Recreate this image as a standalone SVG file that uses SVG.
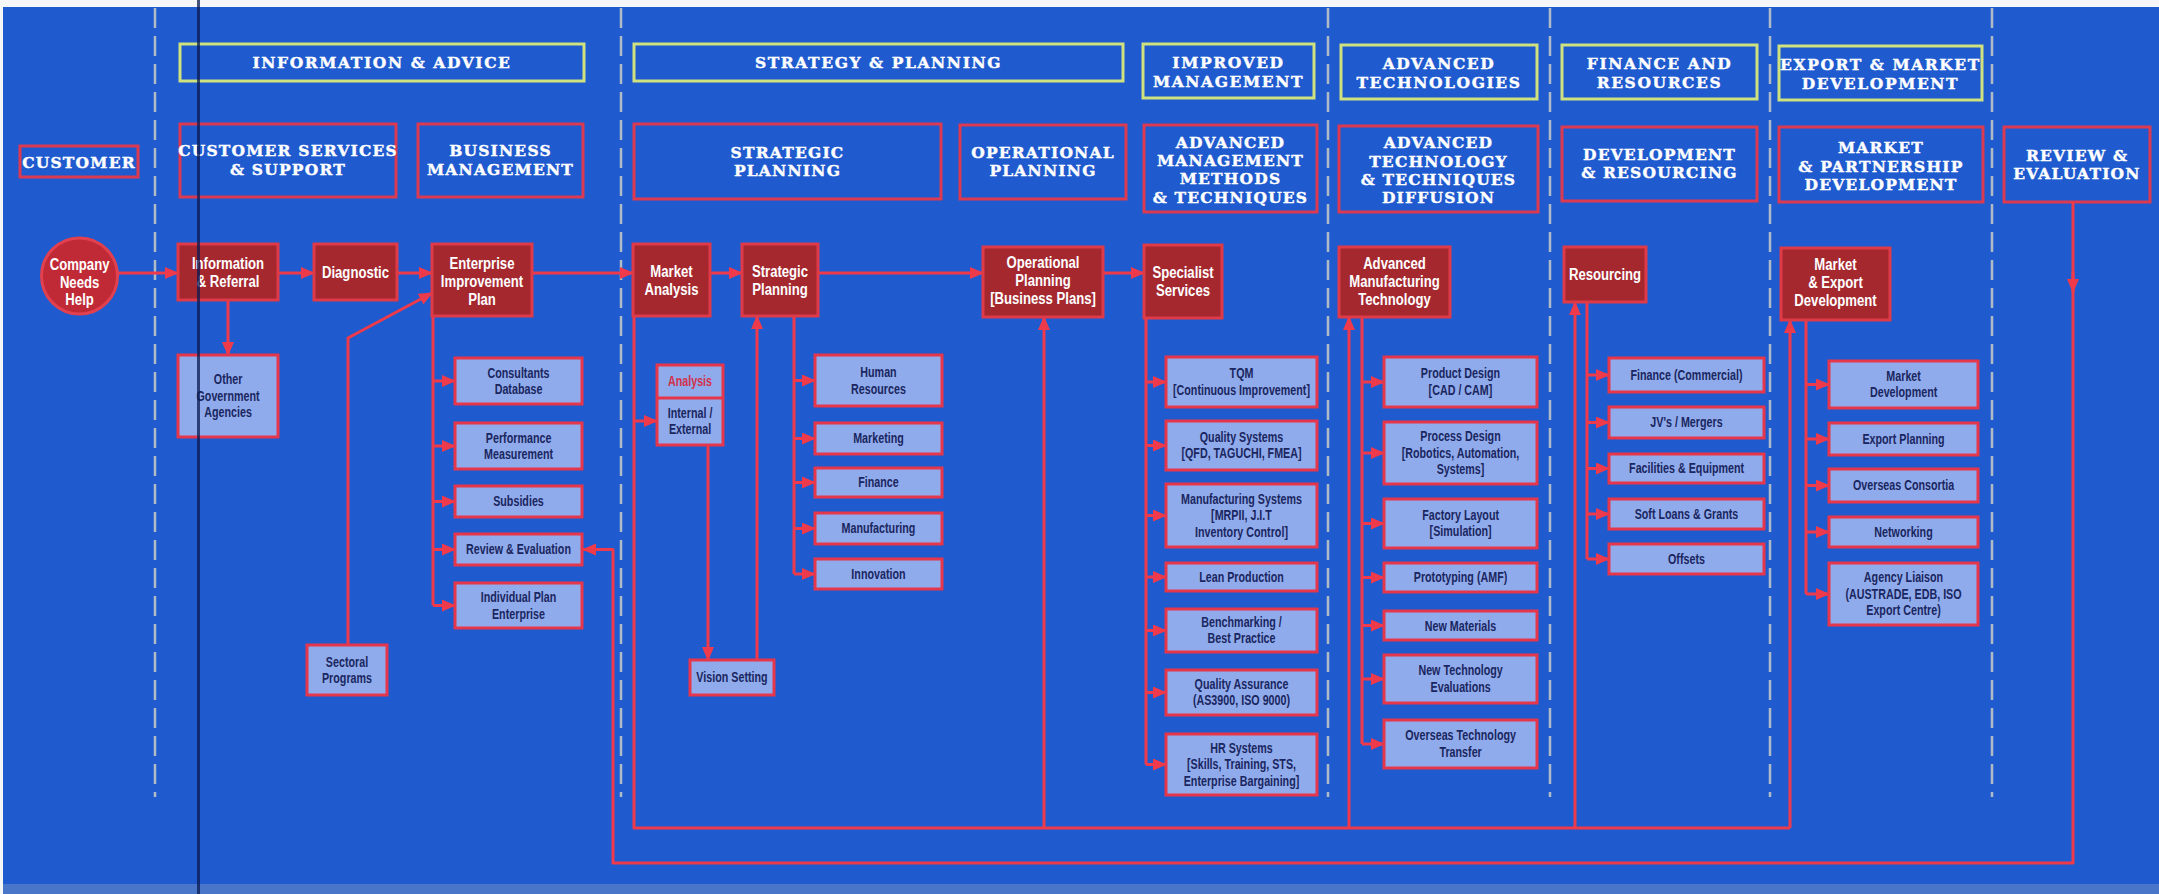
<svg xmlns="http://www.w3.org/2000/svg" width="2159" height="894" viewBox="0 0 2159 894">
  <defs>
    <style>
      .bg { fill: #1f5bcf; }
      .sep { fill: none; stroke: #c9ccc4; stroke-width: 2.5; stroke-dasharray: 20 8; opacity: 0.85; }
      .band { fill: none; stroke: #cfe27e; stroke-width: 3; }
      .area { fill: none; stroke: #dc3a50; stroke-width: 3; }
      .h { font-family: "DejaVu Serif", "Liberation Serif", serif; font-weight: bold; font-size: 15.5px; fill: #ffffff;
           stroke: #ffffff; stroke-width: 0.4px; text-anchor: middle; }
      .h1 { letter-spacing: 1.6px; }
      .h2 { letter-spacing: 1.2px; }
      .fb { fill: #a5282f; stroke: #df3a48; stroke-width: 3; }
      .f { font-family: "Liberation Sans", Arial, sans-serif; font-weight: bold; font-size: 16px; fill: #ffffff; text-anchor: middle;
           transform-box: fill-box; transform-origin: center; transform: scaleX(0.82); }
      .cb { fill: #90abeb; stroke: #e6364b; stroke-width: 3; }
      .c { font-family: "Liberation Sans", Arial, sans-serif; font-weight: bold; font-size: 14.5px; fill: #1a2660; text-anchor: middle;
           transform-box: fill-box; transform-origin: center; transform: scaleX(0.74); }
      .cr { fill: #d3304a; }
      .wire { fill: none; stroke: #ee3a4a; stroke-width: 3; stroke-linejoin: round; }
    </style>
    <marker id="ah" viewBox="0 0 14 12" refX="13" refY="6" markerWidth="14" markerHeight="12" markerUnits="userSpaceOnUse" orient="auto">
      <path d="M0,0 L14,6 L0,12 z" fill="#ee3a4a"/>
    </marker>
  </defs>

  <!-- sheet -->
  <rect x="0" y="0" width="2159" height="894" fill="#f4f6f8"/>
  <rect class="bg" x="3" y="7" width="2156" height="887"/>
  <rect x="3" y="884" width="2156" height="10" fill="#4a76c9"/>

  <!-- column separators -->
  <g id="separators">
    <path class="sep" d="M155 8 V797"/>
    <path class="sep" d="M621 8 V797"/>
    <path class="sep" d="M1328 8 V797"/>
    <path class="sep" d="M1550 8 V797"/>
    <path class="sep" d="M1770 8 V797"/>
    <path class="sep" d="M1992 8 V797"/>
  </g>

  <!-- top band headings -->
  <g id="band-information-advice">
    <rect class="band" x="180" y="44" width="404" height="37"/>
    <text class="h h1" x="382" y="68">INFORMATION &amp; ADVICE</text>
  </g>
  <g id="band-strategy-planning">
    <rect class="band" x="634" y="44" width="489" height="37"/>
    <text class="h h1" x="878.5" y="68">STRATEGY &amp; PLANNING</text>
  </g>
  <g id="band-improved-management">
    <rect class="band" x="1143" y="44" width="171" height="54"/>
    <text class="h h1"><tspan x="1228.5" y="68">IMPROVED</tspan><tspan x="1228.5" y="87">MANAGEMENT</tspan></text>
  </g>
  <g id="band-advanced-technologies">
    <rect class="band" x="1341" y="45" width="196" height="54"/>
    <text class="h h1"><tspan x="1439" y="69">ADVANCED</tspan><tspan x="1439" y="88">TECHNOLOGIES</tspan></text>
  </g>
  <g id="band-finance-resources">
    <rect class="band" x="1562" y="45" width="195" height="54"/>
    <text class="h h1"><tspan x="1659.5" y="69">FINANCE AND</tspan><tspan x="1659.5" y="88">RESOURCES</tspan></text>
  </g>
  <g id="band-export-market">
    <rect class="band" x="1779" y="46" width="203" height="54"/>
    <text class="h h1"><tspan x="1880.5" y="70">EXPORT &amp; MARKET</tspan><tspan x="1880.5" y="89">DEVELOPMENT</tspan></text>
  </g>

  <!-- area headings -->
  <g id="area-customer">
    <rect class="area" x="20" y="146" width="118" height="31"/>
    <text class="h h2" x="79" y="168">CUSTOMER</text>
  </g>
  <g id="area-customer-services">
    <rect class="area" x="180" y="124" width="216" height="73"/>
    <text class="h h2"><tspan x="288" y="156">CUSTOMER SERVICES</tspan><tspan x="288" y="175">&amp; SUPPORT</tspan></text>
  </g>
  <g id="area-business-management">
    <rect class="area" x="418" y="124" width="165" height="73"/>
    <text class="h h2"><tspan x="500.5" y="156">BUSINESS</tspan><tspan x="500.5" y="175">MANAGEMENT</tspan></text>
  </g>
  <g id="area-strategic-planning">
    <rect class="area" x="634" y="124" width="307" height="75"/>
    <text class="h h2"><tspan x="787.5" y="158">STRATEGIC</tspan><tspan x="787.5" y="176">PLANNING</tspan></text>
  </g>
  <g id="area-operational-planning">
    <rect class="area" x="960" y="125" width="166" height="74"/>
    <text class="h h2"><tspan x="1043" y="158">OPERATIONAL</tspan><tspan x="1043" y="176">PLANNING</tspan></text>
  </g>
  <g id="area-advanced-management">
    <rect class="area" x="1144" y="125" width="173" height="87"/>
    <text class="h h2"><tspan x="1230.5" y="148">ADVANCED</tspan><tspan x="1230.5" y="166">MANAGEMENT</tspan><tspan x="1230.5" y="184">METHODS</tspan><tspan x="1230.5" y="203">&amp; TECHNIQUES</tspan></text>
  </g>
  <g id="area-technology-diffusion">
    <rect class="area" x="1339" y="126" width="199" height="86"/>
    <text class="h h2"><tspan x="1438.5" y="148">ADVANCED</tspan><tspan x="1438.5" y="167">TECHNOLOGY</tspan><tspan x="1438.5" y="185">&amp; TECHNIQUES</tspan><tspan x="1438.5" y="203">DIFFUSION</tspan></text>
  </g>
  <g id="area-development-resourcing">
    <rect class="area" x="1562" y="127" width="195" height="74"/>
    <text class="h h2"><tspan x="1659.5" y="160">DEVELOPMENT</tspan><tspan x="1659.5" y="178">&amp; RESOURCING</tspan></text>
  </g>
  <g id="area-market-partnership">
    <rect class="area" x="1779" y="127" width="204" height="75"/>
    <text class="h h2"><tspan x="1881" y="153">MARKET</tspan><tspan x="1881" y="172">&amp; PARTNERSHIP</tspan><tspan x="1881" y="190">DEVELOPMENT</tspan></text>
  </g>
  <g id="area-review-evaluation">
    <rect class="area" x="2004" y="127" width="146" height="75"/>
    <text class="h h2"><tspan x="2077" y="161">REVIEW &amp;</tspan><tspan x="2077" y="179">EVALUATION</tspan></text>
  </g>

  <!-- connectors -->
  <g id="connectors" class="wire">
    <path d="M117.5 273 H178" marker-end="url(#ah)"/>
    <path d="M278 273 H314" marker-end="url(#ah)"/>
    <path d="M397 273 H432" marker-end="url(#ah)"/>
    <path d="M532 273 H633" marker-end="url(#ah)"/>
    <path d="M710 273 H742" marker-end="url(#ah)"/>
    <path d="M818 273 H983" marker-end="url(#ah)"/>
    <path d="M1103 273 H1144" marker-end="url(#ah)"/>
    <path d="M228 300 V355" marker-end="url(#ah)"/>
    <path d="M348 645 V338 L432 293" marker-end="url(#ah)"/>

    <!-- enterprise improvement plan options -->
    <path d="M433 316 V605.5"/>
    <path d="M433 381 H455" marker-end="url(#ah)"/>
    <path d="M433 446 H455" marker-end="url(#ah)"/>
    <path d="M433 501.5 H455" marker-end="url(#ah)"/>
    <path d="M433 549.5 H455" marker-end="url(#ah)"/>
    <path d="M433 605.5 H455" marker-end="url(#ah)"/>

    <!-- review loop -->
    <path d="M2073 202 V863 H613 V549.5 H583" marker-end="url(#ah)"/>
    <path d="M2073 272 V292" marker-end="url(#ah)"/>

    <!-- market analysis feed loop -->
    <path d="M634 316 V828 H1790"/>
    <path d="M1044 828 V317" marker-end="url(#ah)"/>
    <path d="M1349 828 V317" marker-end="url(#ah)"/>
    <path d="M1575 828 V302" marker-end="url(#ah)"/>
    <path d="M1790 828 V320" marker-end="url(#ah)"/>
    <path d="M634 421 H657" marker-end="url(#ah)"/>
    <path d="M708 445 V660" marker-end="url(#ah)"/>
    <path d="M757 660 V316" marker-end="url(#ah)"/>

    <!-- strategic planning options -->
    <path d="M794 316 V574"/>
    <path d="M794 380.5 H815" marker-end="url(#ah)"/>
    <path d="M794 438.5 H815" marker-end="url(#ah)"/>
    <path d="M794 482.5 H815" marker-end="url(#ah)"/>
    <path d="M794 528.5 H815" marker-end="url(#ah)"/>
    <path d="M794 574 H815" marker-end="url(#ah)"/>

    <!-- specialist services options -->
    <path d="M1146 318 V764.5"/>
    <path d="M1146 382 H1166" marker-end="url(#ah)"/>
    <path d="M1146 445.5 H1166" marker-end="url(#ah)"/>
    <path d="M1146 515.5 H1166" marker-end="url(#ah)"/>
    <path d="M1146 577 H1166" marker-end="url(#ah)"/>
    <path d="M1146 630.5 H1166" marker-end="url(#ah)"/>
    <path d="M1146 692.5 H1166" marker-end="url(#ah)"/>
    <path d="M1146 764.5 H1166" marker-end="url(#ah)"/>

    <!-- advanced manufacturing options -->
    <path d="M1362 317 V744"/>
    <path d="M1362 382 H1384" marker-end="url(#ah)"/>
    <path d="M1362 453 H1384" marker-end="url(#ah)"/>
    <path d="M1362 523.5 H1384" marker-end="url(#ah)"/>
    <path d="M1362 577.5 H1384" marker-end="url(#ah)"/>
    <path d="M1362 625.5 H1384" marker-end="url(#ah)"/>
    <path d="M1362 679 H1384" marker-end="url(#ah)"/>
    <path d="M1362 744 H1384" marker-end="url(#ah)"/>

    <!-- resourcing options -->
    <path d="M1587 302 V559"/>
    <path d="M1587 375 H1609" marker-end="url(#ah)"/>
    <path d="M1587 422.5 H1609" marker-end="url(#ah)"/>
    <path d="M1587 468.5 H1609" marker-end="url(#ah)"/>
    <path d="M1587 514 H1609" marker-end="url(#ah)"/>
    <path d="M1587 559 H1609" marker-end="url(#ah)"/>

    <!-- market and export options -->
    <path d="M1806 320 V594"/>
    <path d="M1806 384.5 H1829" marker-end="url(#ah)"/>
    <path d="M1806 439 H1829" marker-end="url(#ah)"/>
    <path d="M1806 485.5 H1829" marker-end="url(#ah)"/>
    <path d="M1806 532 H1829" marker-end="url(#ah)"/>
    <path d="M1806 594 H1829" marker-end="url(#ah)"/>
  </g>

  <!-- main flow -->
  <g id="company-needs-help">
    <circle cx="79.5" cy="276" r="38" fill="#bf2a36" stroke="#e2404e" stroke-width="3"/>
    <text class="f"><tspan x="79.5" y="270">Company</tspan><tspan x="79.5" y="288">Needs</tspan><tspan x="79.5" y="305">Help</tspan></text>
  </g>
  <g id="information-referral">
    <rect class="fb" x="178" y="244" width="100" height="56"/>
    <text class="f"><tspan x="228" y="269">Information</tspan><tspan x="228" y="287">&amp; Referral</tspan></text>
  </g>
  <g id="diagnostic">
    <rect class="fb" x="314" y="244" width="83" height="56"/>
    <text class="f" x="355.5" y="278">Diagnostic</text>
  </g>
  <g id="enterprise-improvement-plan">
    <rect class="fb" x="432" y="244" width="100" height="72"/>
    <text class="f"><tspan x="482" y="269">Enterprise</tspan><tspan x="482" y="287">Improvement</tspan><tspan x="482" y="305">Plan</tspan></text>
  </g>
  <g id="market-analysis">
    <rect class="fb" x="633" y="244" width="77" height="72"/>
    <text class="f"><tspan x="671.5" y="277">Market</tspan><tspan x="671.5" y="295">Analysis</tspan></text>
  </g>
  <g id="strategic-planning">
    <rect class="fb" x="742" y="244" width="76" height="72"/>
    <text class="f"><tspan x="780" y="277">Strategic</tspan><tspan x="780" y="295">Planning</tspan></text>
  </g>
  <g id="operational-planning">
    <rect class="fb" x="983" y="247" width="120" height="70"/>
    <text class="f"><tspan x="1043" y="268">Operational</tspan><tspan x="1043" y="286">Planning</tspan><tspan x="1043" y="304">[Business Plans]</tspan></text>
  </g>
  <g id="specialist-services">
    <rect class="fb" x="1144" y="245" width="78" height="73"/>
    <text class="f"><tspan x="1183" y="278">Specialist</tspan><tspan x="1183" y="296">Services</tspan></text>
  </g>
  <g id="advanced-manufacturing-technology">
    <rect class="fb" x="1339" y="247" width="111" height="70"/>
    <text class="f"><tspan x="1394.5" y="269">Advanced</tspan><tspan x="1394.5" y="287">Manufacturing</tspan><tspan x="1394.5" y="305">Technology</tspan></text>
  </g>
  <g id="resourcing">
    <rect class="fb" x="1564" y="247" width="82" height="55"/>
    <text class="f" x="1605" y="280">Resourcing</text>
  </g>
  <g id="market-export-development">
    <rect class="fb" x="1781" y="248" width="109" height="72"/>
    <text class="f"><tspan x="1835.5" y="270">Market</tspan><tspan x="1835.5" y="288">&amp; Export</tspan><tspan x="1835.5" y="306">Development</tspan></text>
  </g>

  <!-- supporting boxes -->
  <g id="other-government-agencies">
    <rect class="cb" x="178" y="355" width="100" height="82"/>
    <text class="c"><tspan x="228" y="384.5">Other</tspan><tspan x="228" y="401">Government</tspan><tspan x="228" y="417.5">Agencies</tspan></text>
  </g>
  <g id="sectoral-programs">
    <rect class="cb" x="307" y="645" width="80" height="50"/>
    <text class="c"><tspan x="347" y="667">Sectoral</tspan><tspan x="347" y="683">Programs</tspan></text>
  </g>
  <g id="consultants-database">
    <rect class="cb" x="455" y="358" width="127" height="46"/>
    <text class="c"><tspan x="518.5" y="378">Consultants</tspan><tspan x="518.5" y="394">Database</tspan></text>
  </g>
  <g id="performance-measurement">
    <rect class="cb" x="455" y="423" width="127" height="46"/>
    <text class="c"><tspan x="518.5" y="443">Performance</tspan><tspan x="518.5" y="459">Measurement</tspan></text>
  </g>
  <g id="subsidies">
    <rect class="cb" x="455" y="486" width="127" height="31"/>
    <text class="c" x="518.5" y="506.5">Subsidies</text>
  </g>
  <g id="review-evaluation-plan">
    <rect class="cb" x="455" y="534" width="127" height="31"/>
    <text class="c" x="518.5" y="554.5">Review &amp; Evaluation</text>
  </g>
  <g id="individual-plan">
    <rect class="cb" x="455" y="583" width="127" height="45"/>
    <text class="c"><tspan x="518.5" y="602">Individual Plan</tspan><tspan x="518.5" y="619">Enterprise</tspan></text>
  </g>

  <g id="analysis-internal-external">
    <rect class="cb" x="657" y="365" width="66" height="80"/>
    <path d="M657 398 H723" stroke="#e6364b" stroke-width="3"/>
    <text class="c cr" x="690" y="386.5">Analysis</text>
    <text class="c"><tspan x="690" y="418">Internal /</tspan><tspan x="690" y="434.5">External</tspan></text>
  </g>
  <g id="vision-setting">
    <rect class="cb" x="690" y="660" width="84" height="35"/>
    <text class="c" x="732" y="682.5">Vision Setting</text>
  </g>
  <g id="human-resources">
    <rect class="cb" x="815" y="355" width="127" height="51"/>
    <text class="c"><tspan x="878.5" y="377">Human</tspan><tspan x="878.5" y="394">Resources</tspan></text>
  </g>
  <g id="marketing">
    <rect class="cb" x="815" y="423" width="127" height="31"/>
    <text class="c" x="878.5" y="443.5">Marketing</text>
  </g>
  <g id="finance">
    <rect class="cb" x="815" y="468" width="127" height="29"/>
    <text class="c" x="878.5" y="487.5">Finance</text>
  </g>
  <g id="manufacturing">
    <rect class="cb" x="815" y="513" width="127" height="31"/>
    <text class="c" x="878.5" y="533.5">Manufacturing</text>
  </g>
  <g id="innovation">
    <rect class="cb" x="815" y="559" width="127" height="30"/>
    <text class="c" x="878.5" y="579">Innovation</text>
  </g>

  <g id="tqm">
    <rect class="cb" x="1166" y="357" width="151" height="50"/>
    <text class="c"><tspan x="1241.5" y="378.5">TQM</tspan><tspan x="1241.5" y="395">[Continuous Improvement]</tspan></text>
  </g>
  <g id="quality-systems">
    <rect class="cb" x="1166" y="421" width="151" height="49"/>
    <text class="c"><tspan x="1241.5" y="442">Quality Systems</tspan><tspan x="1241.5" y="458.5">[QFD, TAGUCHI, FMEA]</tspan></text>
  </g>
  <g id="manufacturing-systems">
    <rect class="cb" x="1166" y="484" width="151" height="63"/>
    <text class="c"><tspan x="1241.5" y="504">Manufacturing Systems</tspan><tspan x="1241.5" y="520.5">[MRPII, J.I.T</tspan><tspan x="1241.5" y="537">Inventory Control]</tspan></text>
  </g>
  <g id="lean-production">
    <rect class="cb" x="1166" y="563" width="151" height="28"/>
    <text class="c" x="1241.5" y="582">Lean Production</text>
  </g>
  <g id="benchmarking">
    <rect class="cb" x="1166" y="609" width="151" height="43"/>
    <text class="c"><tspan x="1241.5" y="627">Benchmarking /</tspan><tspan x="1241.5" y="643.5">Best Practice</tspan></text>
  </g>
  <g id="quality-assurance">
    <rect class="cb" x="1166" y="670" width="151" height="45"/>
    <text class="c"><tspan x="1241.5" y="689">Quality Assurance</tspan><tspan x="1241.5" y="705.5">(AS3900, ISO 9000)</tspan></text>
  </g>
  <g id="hr-systems">
    <rect class="cb" x="1166" y="734" width="151" height="61"/>
    <text class="c"><tspan x="1241.5" y="753">HR Systems</tspan><tspan x="1241.5" y="769.5">[Skills, Training, STS,</tspan><tspan x="1241.5" y="786">Enterprise Bargaining]</tspan></text>
  </g>

  <g id="product-design">
    <rect class="cb" x="1384" y="357" width="153" height="50"/>
    <text class="c"><tspan x="1460.5" y="378.5">Product Design</tspan><tspan x="1460.5" y="395">[CAD / CAM]</tspan></text>
  </g>
  <g id="process-design">
    <rect class="cb" x="1384" y="422" width="153" height="62"/>
    <text class="c"><tspan x="1460.5" y="441.5">Process Design</tspan><tspan x="1460.5" y="458">[Robotics, Automation,</tspan><tspan x="1460.5" y="474.5">Systems]</tspan></text>
  </g>
  <g id="factory-layout">
    <rect class="cb" x="1384" y="499" width="153" height="49"/>
    <text class="c"><tspan x="1460.5" y="520">Factory Layout</tspan><tspan x="1460.5" y="536.5">[Simulation]</tspan></text>
  </g>
  <g id="prototyping">
    <rect class="cb" x="1384" y="563" width="153" height="29"/>
    <text class="c" x="1460.5" y="582.5">Prototyping (AMF)</text>
  </g>
  <g id="new-materials">
    <rect class="cb" x="1384" y="611" width="153" height="29"/>
    <text class="c" x="1460.5" y="630.5">New Materials</text>
  </g>
  <g id="new-technology-evaluations">
    <rect class="cb" x="1384" y="655" width="153" height="48"/>
    <text class="c"><tspan x="1460.5" y="675.5">New Technology</tspan><tspan x="1460.5" y="692">Evaluations</tspan></text>
  </g>
  <g id="overseas-technology-transfer">
    <rect class="cb" x="1384" y="720" width="153" height="48"/>
    <text class="c"><tspan x="1460.5" y="740.5">Overseas Technology</tspan><tspan x="1460.5" y="757">Transfer</tspan></text>
  </g>

  <g id="finance-commercial">
    <rect class="cb" x="1609" y="358" width="155" height="34"/>
    <text class="c" x="1686.5" y="380">Finance (Commercial)</text>
  </g>
  <g id="jv-mergers">
    <rect class="cb" x="1609" y="407" width="155" height="31"/>
    <text class="c" x="1686.5" y="427.5">JV's / Mergers</text>
  </g>
  <g id="facilities-equipment">
    <rect class="cb" x="1609" y="454" width="155" height="29"/>
    <text class="c" x="1686.5" y="473.5">Facilities &amp; Equipment</text>
  </g>
  <g id="soft-loans-grants">
    <rect class="cb" x="1609" y="499" width="155" height="30"/>
    <text class="c" x="1686.5" y="519">Soft Loans &amp; Grants</text>
  </g>
  <g id="offsets">
    <rect class="cb" x="1609" y="544" width="155" height="30"/>
    <text class="c" x="1686.5" y="564">Offsets</text>
  </g>

  <g id="market-development">
    <rect class="cb" x="1829" y="361" width="149" height="47"/>
    <text class="c"><tspan x="1903.5" y="381">Market</tspan><tspan x="1903.5" y="397.5">Development</tspan></text>
  </g>
  <g id="export-planning">
    <rect class="cb" x="1829" y="423" width="149" height="32"/>
    <text class="c" x="1903.5" y="444">Export Planning</text>
  </g>
  <g id="overseas-consortia">
    <rect class="cb" x="1829" y="469" width="149" height="33"/>
    <text class="c" x="1903.5" y="490.5">Overseas Consortia</text>
  </g>
  <g id="networking">
    <rect class="cb" x="1829" y="517" width="149" height="30"/>
    <text class="c" x="1903.5" y="537">Networking</text>
  </g>
  <g id="agency-liaison">
    <rect class="cb" x="1829" y="563" width="149" height="62"/>
    <text class="c"><tspan x="1903.5" y="582.5">Agency Liaison</tspan><tspan x="1903.5" y="599">(AUSTRADE, EDB, ISO</tspan><tspan x="1903.5" y="615.5">Export Centre)</tspan></text>
  </g>

  <!-- dark vertical rule across the sheet -->
  <path d="M198.5 0 V894" stroke="#0a1a52" stroke-width="3" opacity="0.75"/>
</svg>
